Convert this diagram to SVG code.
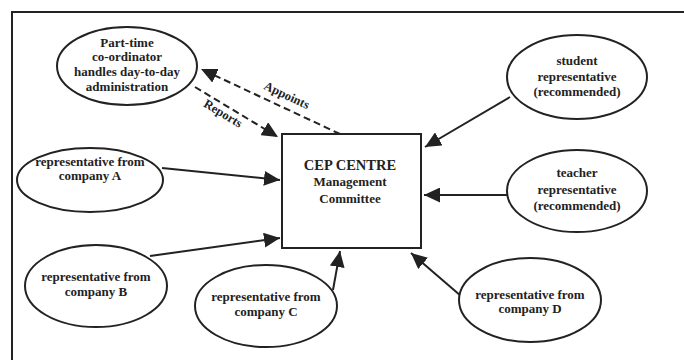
<svg xmlns="http://www.w3.org/2000/svg" width="684" height="360" viewBox="0 0 684 360">
<defs>
<style>
.bg{fill:#ffffff}
.frame{fill:none;stroke:#222;stroke-width:2}
.node{fill:#ffffff;stroke:#222;stroke-width:2}
.t{font-family:"Liberation Serif","Times New Roman",serif;font-weight:bold;font-size:13px;fill:#222;text-anchor:middle}
.big{font-size:14.5px}
.lbl{font-family:"Liberation Serif","Times New Roman",serif;font-weight:bold;font-size:12.5px;fill:#222;text-anchor:middle}
.c{fill:none;stroke:#222;stroke-width:2}
.d{stroke-dasharray:7 4}
</style>
<marker id="ah" markerUnits="userSpaceOnUse" markerWidth="18" markerHeight="15" refX="16" refY="7.5" orient="auto">
<path d="M0,0 L16,7.5 L0,15 z" fill="#222"/>
</marker>
</defs>
<rect class="bg" x="0" y="0" width="684" height="360"/>
<path class="frame" d="M12,360 L12,12 L684,12"/>

<g id="connectors">
<line class="c d" x1="340" y1="134" x2="201" y2="69" marker-end="url(#ah)"/>
<line class="c d" x1="195" y1="87" x2="278" y2="137" marker-end="url(#ah)"/>
<line class="c" x1="162" y1="168" x2="280" y2="180" marker-end="url(#ah)"/>
<line class="c" x1="150" y1="256" x2="280" y2="238" marker-end="url(#ah)"/>
<line class="c" x1="333" y1="290" x2="340" y2="251" marker-end="url(#ah)"/>
<line class="c" x1="461" y1="296" x2="411" y2="253" marker-end="url(#ah)"/>
<line class="c" x1="510" y1="97" x2="425" y2="147" marker-end="url(#ah)"/>
<line class="c" x1="507" y1="195" x2="424" y2="195" marker-end="url(#ah)"/>
<text class="lbl" transform="translate(285,99) rotate(25)">Appoints</text>
<text class="lbl" transform="translate(221,117) rotate(31)">Reports</text>
</g>

<g id="coordinator">
<ellipse class="node" cx="127" cy="66" rx="70" ry="39"/>
<text class="t" x="127" y="47">Part-time</text>
<text class="t" x="127" y="61">co-ordinator</text>
<text class="t" x="127" y="76">handles day-to-day</text>
<text class="t" x="127" y="91">administration</text>
</g>

<g id="cep">
<rect class="node" x="282" y="134" width="139" height="114"/>
<text class="t big" x="350" y="170">CEP CENTRE</text>
<text class="t" x="350" y="186">Management</text>
<text class="t" x="350" y="203">Committee</text>
</g>

<g id="repA">
<ellipse class="node" cx="90" cy="180" rx="73" ry="32"/>
<text class="t" x="90" y="166">representative from</text>
<text class="t" x="90" y="180">company A</text>
</g>

<g id="repB">
<ellipse class="node" cx="96" cy="286" rx="71" ry="41"/>
<text class="t" x="96" y="281">representative from</text>
<text class="t" x="96" y="296">company B</text>
</g>

<g id="repC">
<ellipse class="node" cx="266" cy="306" rx="71" ry="41"/>
<text class="t" x="266" y="301">representative from</text>
<text class="t" x="266" y="316">company C</text>
</g>

<g id="repD">
<ellipse class="node" cx="530" cy="300" rx="71" ry="42"/>
<text class="t" x="530" y="299">representative from</text>
<text class="t" x="530" y="313">company D</text>
</g>

<g id="student">
<ellipse class="node" cx="577" cy="77" rx="70" ry="42"/>
<text class="t" x="577" y="65">student</text>
<text class="t" x="577" y="81">representative</text>
<text class="t" x="577" y="96">(recommended)</text>
</g>

<g id="teacher">
<ellipse class="node" cx="577" cy="191" rx="70" ry="41"/>
<text class="t" x="577" y="177">teacher</text>
<text class="t" x="577" y="194">representative</text>
<text class="t" x="577" y="210">(recommended)</text>
</g>
</svg>
